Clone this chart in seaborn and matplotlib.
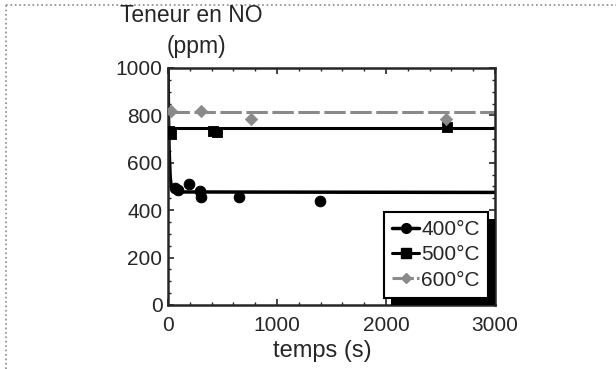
import numpy as np
import matplotlib
matplotlib.use("Agg")
import matplotlib.pyplot as plt
from matplotlib.lines import Line2D
from matplotlib.patches import Rectangle
from matplotlib.ticker import AutoMinorLocator
from matplotlib.transforms import IdentityTransform
import seaborn as sns
import pandas as pd

# Measured points (NO content, ppm) for each temperature
t_400 = [60, 90, 190, 290, 300, 650, 1390]
no_400 = [495, 485, 510, 480, 455, 455, 440]
t_500 = [10, 30, 410, 450, 2560]
no_500 = [735, 720, 735, 730, 750]
t_600 = [30, 300, 760, 2550]
no_600 = [820, 820, 785, 785]

# Model curves
t_fit_400 = [0, 5, 10, 20, 30, 45, 70, 3000]
no_fit_400 = [1000, 790, 660, 540, 500, 483, 477, 475]
t_fit_500 = [0, 3000]
no_fit_500 = [745, 745]
t_fit_600 = [0, 3000]
no_fit_600 = [815, 815]

labels = ["400°C", "500°C", "600°C"]
x_ticks = [0, 1000, 2000, 3000]
y_ticks = [0, 200, 400, 600, 800, 1000]

sns.set_style("ticks")
plt.rcParams['font.family'] = ['Liberation Sans', 'DejaVu Sans']

fig = plt.figure(figsize=(6.16, 3.69), dpi=100)
ax = fig.add_axes([168 / 616, 1 - 305 / 369, 327 / 616, 237 / 369])

grey = "#8a8a8a"
sns.lineplot(x=t_fit_400, y=no_fit_400, ax=ax, color="black", lw=2.5)
sns.lineplot(x=t_fit_500, y=no_fit_500, ax=ax, color="black", lw=2.2)
sns.lineplot(x=t_fit_600, y=no_fit_600, ax=ax, color=grey, lw=2.2)
ax.lines[-1].set_dashes([7, 1.5])

sns.scatterplot(x=t_400, y=no_400, ax=ax, color="black", marker="o", s=60, edgecolor="black", zorder=4)
sns.scatterplot(x=t_500, y=no_500, ax=ax, color="black", marker="s", s=60, edgecolor="black", zorder=4)
sns.scatterplot(x=t_600, y=no_600, ax=ax, color=grey, marker="D", s=40, edgecolor=grey, zorder=4)

ax.set_xlim(0, 3000)
ax.set_ylim(0, 1000)
ax.set_xticks(x_ticks)
ax.set_yticks(y_ticks)
ax.xaxis.set_minor_locator(AutoMinorLocator(5))
ax.yaxis.set_minor_locator(AutoMinorLocator(4))
ax.tick_params(which="both", direction="in", top=True, right=True, labelsize=15)
ax.tick_params(axis="x", pad=8)
ax.tick_params(axis="y", pad=4)
ax.tick_params(which="major", length=4, width=1.2)
ax.tick_params(which="minor", length=2, width=1)
for s in ax.spines.values():
    s.set_linewidth(1.8)
ax.set_xlabel("temps (s)", fontsize=17)
ax.xaxis.set_label_coords((322 - 168) / 327, -35 / 237)
ax.set_ylabel("")

fig.text(120 / 616, 1 - 16 / 369, "Teneur en NO", fontsize=16.5, va="center", ha="left")
fig.text(167 / 616, 1 - 46 / 369, "(ppm)", fontsize=16.5, va="center", ha="left")

handles = [
    Line2D([], [], color="black", lw=2.5, marker="o", markersize=7),
    Line2D([], [], color="black", lw=2.2, marker="s", markersize=7),
    Line2D([], [], color=grey, lw=2.2, marker="D", markersize=5, dashes=[3, 1]),
]
leg = ax.legend(handles, labels, loc="lower right", bbox_to_anchor=(1 - 7 / 327, 7 / 237),
                fontsize=15, frameon=True, fancybox=False, framealpha=1,
                handlelength=1.3, handletextpad=0.1, labelspacing=0.3,
                borderpad=0.4, borderaxespad=0)
leg.get_frame().set_edgecolor("black")
leg.get_frame().set_linewidth(1.5)
leg.set_zorder(6)

# black drop shadow behind the legend box
fig.canvas.draw()
bb = leg.get_window_extent()
shadow = Rectangle((bb.x0 + 7, bb.y0 - 7), bb.width, bb.height, transform=IdentityTransform(),
                   facecolor="black", edgecolor="none", zorder=5.5, clip_on=False)
ax.add_patch(shadow)

# dotted frame of the scanned figure (left and top edges)
fig.add_artist(Line2D([6 / 616, 6 / 616], [0, 1 - 5 / 369], color=grey, lw=1.2, ls=":"))
fig.add_artist(Line2D([6 / 616, 1], [1 - 5 / 369, 1 - 5 / 369], color=grey, lw=1.2, ls=":"))

fig.savefig("out.png", dpi=100)
